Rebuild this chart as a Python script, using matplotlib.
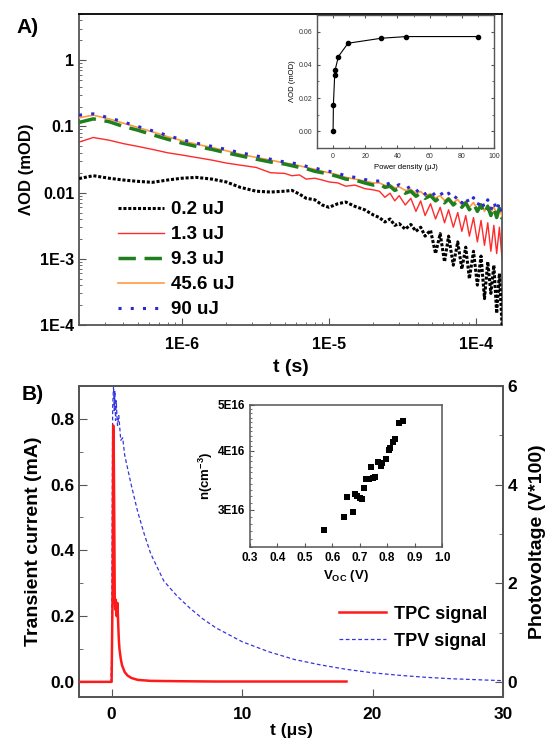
import numpy as np
import matplotlib.pyplot as plt
from matplotlib.ticker import FixedLocator, FixedFormatter, LogLocator, NullFormatter, MultipleLocator

plt.rcParams['font.family'] = ['Liberation Sans', 'DejaVu Sans']
plt.rcParams['font.weight'] = 'bold'
plt.rcParams['axes.labelweight'] = 'bold'

# ---- panel A: transient absorption decays ----
t_a = [2.0e-7, 2.5e-7, 3.2e-7, 4e-7, 5e-7, 6.3e-7, 8e-7, 1e-6, 1.25e-6, 1.6e-6,
       2e-6, 2.5e-6, 3.2e-6, 4e-6, 5e-6, 5.6e-6, 6.3e-6, 7e-6, 8e-6, 9e-6,
       1e-5, 1.15e-5, 1.3e-5, 1.5e-5, 1.75e-5, 2e-5,
       2.2e-5, 2.4e-5, 2.6e-5, 2.8e-5, 3e-5, 3.3e-5, 3.6e-5, 3.9e-5, 4.2e-5, 4.5e-5,
       4.9e-5, 5.3e-5, 5.7e-5, 6.1e-5, 6.5e-5, 7e-5, 7.5e-5, 8e-5, 8.5e-5, 9e-5,
       9.6e-5, 1.02e-4, 1.08e-4, 1.14e-4, 1.2e-4, 1.26e-4, 1.32e-4, 1.38e-4, 1.44e-4, 1.5e-4]

od_02 = [0.0163, 0.018, 0.0165, 0.0155, 0.0148, 0.0143, 0.0155, 0.0165, 0.017, 0.016,
         0.0145, 0.012, 0.0105, 0.0102, 0.0105, 0.0108, 0.0095, 0.0082, 0.0078, 0.0065,
         0.006, 0.0068, 0.0072, 0.0062, 0.0055, 0.0046,
         0.0042, 0.0036, 0.0040, 0.0032, 0.0034, 0.0028, 0.0033, 0.0026, 0.0030, 0.0022,
         0.0027, 0.0012, 0.0024, 0.0009, 0.0022, 0.0008, 0.0018, 0.0007, 0.0015, 0.0005,
         0.0013, 0.0004, 0.0011, 0.00025, 0.0009, 0.0003, 0.0008, 0.00015, 0.0006, 0.0001]
od_13 = [0.058, 0.068, 0.062, 0.055, 0.05, 0.045, 0.040, 0.037, 0.034, 0.031,
         0.028, 0.026, 0.024, 0.020, 0.0195, 0.018, 0.0185, 0.016, 0.0165, 0.0155,
         0.0145, 0.014, 0.0125, 0.013, 0.0115, 0.011,
         0.0105, 0.0085, 0.0098, 0.0075, 0.0090, 0.0065, 0.0082, 0.0052, 0.0075, 0.0045,
         0.0068, 0.0040, 0.0060, 0.0035, 0.0055, 0.0030, 0.0050, 0.0026, 0.0045, 0.0022,
         0.0042, 0.0018, 0.0038, 0.0016, 0.0035, 0.0013, 0.0032, 0.0012, 0.0030, 0.0010]
od_93 = [0.115, 0.13, 0.118, 0.10, 0.088, 0.075, 0.064, 0.056, 0.05, 0.045,
         0.040, 0.036, 0.032, 0.029, 0.027, 0.0255, 0.024, 0.023, 0.021, 0.020,
         0.019, 0.0175, 0.016, 0.0155, 0.014, 0.013,
         0.0135, 0.0120, 0.0125, 0.0108, 0.0115, 0.0098, 0.0105, 0.0088, 0.0098, 0.0082,
         0.0090, 0.0075, 0.0085, 0.0070, 0.0080, 0.0065, 0.0075, 0.0060, 0.0070, 0.0055,
         0.0068, 0.0052, 0.0065, 0.0048, 0.0062, 0.0045, 0.0060, 0.0042, 0.0058, 0.0040]
od_456 = [0.135, 0.148, 0.13, 0.112, 0.097, 0.083, 0.07, 0.061, 0.054, 0.048,
          0.043, 0.038, 0.034, 0.031, 0.028, 0.027, 0.0255, 0.024, 0.0225, 0.021,
          0.020, 0.0185, 0.017, 0.016, 0.015, 0.014,
          0.0140, 0.0128, 0.0132, 0.0118, 0.0122, 0.0108, 0.0112, 0.0098, 0.0104, 0.0090,
          0.0096, 0.0083, 0.0090, 0.0076, 0.0084, 0.0070, 0.0079, 0.0065, 0.0074, 0.0060,
          0.0071, 0.0056, 0.0068, 0.0052, 0.0065, 0.0049, 0.0062, 0.0046, 0.0060, 0.0044]
od_90 = [0.148, 0.155, 0.135, 0.117, 0.10, 0.086, 0.073, 0.063, 0.056, 0.05,
         0.045, 0.040, 0.036, 0.032, 0.029, 0.028, 0.027, 0.025, 0.0235, 0.022,
         0.021, 0.0195, 0.018, 0.017, 0.0158, 0.0148,
         0.0150, 0.0130, 0.0140, 0.0122, 0.0132, 0.0112, 0.0125, 0.0102, 0.0118, 0.0095,
         0.0110, 0.0088, 0.0104, 0.0082, 0.0098, 0.0076, 0.0092, 0.0070, 0.0088, 0.0066,
         0.0084, 0.0062, 0.0080, 0.0058, 0.0078, 0.0055, 0.0075, 0.0052, 0.0072, 0.0050]

# inset A: signal amplitude vs pump power
power = [0, 0.2, 1.0, 1.3, 3.3, 9.3, 30, 45.6, 90]
amp = [0.0, 0.016, 0.034, 0.037, 0.045, 0.053, 0.056, 0.057, 0.057]

# ---- panel B: TPC / TPV ----
t_tpc = [-2.5, -1.5, -0.5, 0.0, 0.08, 0.12, 0.16, 0.2, 0.24, 0.28, 0.32, 0.38, 0.45,
         0.5, 0.55, 0.6, 0.7, 0.8, 0.9, 1.0, 1.2, 1.5, 2.0, 3.0, 5.0, 8.0, 12.0, 15.0, 18.0]
i_tpc = [0.0, 0.0, 0.0, 0.0, 0.3, 0.78, 0.72, 0.5, 0.25, 0.22, 0.25, 0.2, 0.24,
         0.18, 0.13, 0.1, 0.07, 0.05, 0.04, 0.03, 0.02, 0.012, 0.006, 0.003, 0.002, 0.001, 0.001, 0.001, 0.001]

t_tpv = [-2.5, -1.0, -0.05, 0.0, 0.08, 0.15, 0.2, 0.25, 0.3, 0.35, 0.45, 0.55, 0.7, 0.85,
         1.0, 1.5, 2.0, 2.5, 3.0, 4.0, 5.0, 6.0, 7.0, 8.0, 10, 12, 14, 16, 18,
         20, 22, 24, 26, 28, 30]
v_tpv = [0.0, 0.0, 0.0, 0.5, 5.6, 6.0, 5.5, 5.9, 5.3, 5.7, 5.2, 5.4, 4.9, 4.95,
         4.6, 4.0, 3.45, 3.0, 2.6, 2.05, 1.75, 1.5, 1.28, 1.1, 0.82, 0.62, 0.46, 0.35, 0.26,
         0.19, 0.14, 0.1, 0.07, 0.05, 0.03]

# inset B: carrier density vs Voc
voc = [0.57, 0.644, 0.654, 0.675, 0.683, 0.69, 0.70, 0.71, 0.714, 0.724, 0.733, 0.742,
       0.75, 0.757, 0.768, 0.778, 0.78, 0.795, 0.805, 0.811, 0.82, 0.83, 0.844, 0.856]
dens = [2.71e16, 2.89e16, 3.19e16, 2.96e16, 3.24e16, 3.20e16, 3.18e16, 3.16e16, 3.34e16,
        3.49e16, 3.49e16, 3.69e16, 3.50e16, 3.52e16, 3.79e16, 3.72e16, 3.76e16, 3.85e16,
        4.01e16, 4.06e16, 4.17e16, 4.23e16, 4.58e16, 4.62e16]

spine_col = '#555555'

fig = plt.figure(figsize=(5.51, 7.44), dpi=100)


def style_box(ax, lw=1.3):
    for s in ax.spines.values():
        s.set_color(spine_col)
        s.set_linewidth(lw)


# ---------------- panel A ----------------
axA = fig.add_axes([0.1434, 0.5632, 0.7677, 0.4180])
axA.plot(t_a, od_02, color='black', ls=(0, (1, 0.6)), lw=2.2, label='0.2 uJ', zorder=3)
axA.plot(t_a, od_13, color='#ff2a2a', ls='-', lw=1.0, label='1.3 uJ', zorder=2)
axA.plot(t_a, od_93, color='#1f7f1f', ls=(0, (5, 2.5)), lw=2.5, label='9.3 uJ', zorder=4)
axA.plot(t_a, od_456, color='#ff9a40', ls='-', lw=1.2, label='45.6 uJ', zorder=3)
axA.plot(t_a, od_90, color='#2a2ad0', ls=(0, (1, 3)), lw=2.2, label='90 uJ', zorder=5)
axA.set_xscale('log')
axA.set_yscale('log')
axA.set_xlim(2.0e-7, 1.5e-4)
axA.set_ylim(1e-4, 5)
axA.yaxis.set_major_locator(FixedLocator([1e-4, 1e-3, 1e-2, 1e-1, 1]))
axA.yaxis.set_major_formatter(FixedFormatter(['1E-4', '1E-3', '0.01', '0.1', '1']))
axA.xaxis.set_major_locator(FixedLocator([1e-6, 1e-5, 1e-4]))
axA.xaxis.set_major_formatter(FixedFormatter(['1E-6', '1E-5', '1E-4']))
axA.xaxis.set_minor_locator(LogLocator(base=10, subs=np.arange(2, 10)))
axA.yaxis.set_minor_locator(LogLocator(base=10, subs=np.arange(2, 10)))
axA.xaxis.set_minor_formatter(NullFormatter())
axA.yaxis.set_minor_formatter(NullFormatter())
axA.tick_params(which='both', direction='in', colors=spine_col, labelcolor='black',
                labelsize=11.5)
axA.tick_params(which='major', length=5)
axA.tick_params(which='minor', length=2.5)
axA.tick_params(axis='x', which='major', pad=9)
style_box(axA)
axA.spines['top'].set_color('black')
axA.set_xlabel('t (s)', fontsize=14, labelpad=5)
axA.set_ylabel('ΛOD (mOD)', fontsize=12, labelpad=4)
axA.legend(loc='lower left', bbox_to_anchor=(0.06, -0.02), frameon=False, fontsize=13.5,
           handlelength=2.5, handletextpad=0.35, labelspacing=0.42, borderaxespad=0.3)
fig.text(0.03, 0.955, 'A)', fontsize=15, fontweight='bold')

# inset A
axIA = fig.add_axes([0.5753, 0.8011, 0.3212, 0.1788])
axIA.plot(power, amp, color='black', lw=0.8, marker='o', ms=3)
axIA.set_xlim(-10, 100)
axIA.set_ylim(-0.01, 0.07)
axIA.xaxis.set_major_locator(MultipleLocator(20))
axIA.xaxis.set_minor_locator(MultipleLocator(10))
axIA.yaxis.set_minor_locator(MultipleLocator(0.01))
axIA.set_yticks([0.0, 0.02, 0.04, 0.06])
axIA.set_yticklabels(['0.00', '0.02', '0.04', '0.06'])
axIA.tick_params(which='both', direction='in', labelsize=5, colors=spine_col, labelcolor='#333333',
                 top=True, right=True)
axIA.tick_params(which='major', length=2.5)
axIA.tick_params(which='minor', length=1.2)
for lab in axIA.get_xticklabels() + axIA.get_yticklabels():
    lab.set_fontweight('normal')
style_box(axIA, lw=1.0)
axIA.set_xlabel('Power density (μJ)', fontsize=5.5, fontweight='normal', labelpad=3)
axIA.set_ylabel('ΛOD (mOD)', fontsize=5.5, fontweight='normal', labelpad=2)

# ---------------- panel B ----------------
axB = fig.add_axes([0.1434, 0.0632, 0.7695, 0.4180])
axB2 = axB.twinx()
l1, = axB.plot(t_tpc, i_tpc, color='#ff1a1a', lw=1.8, label='TPC signal', zorder=3)
l2, = axB2.plot(t_tpv, v_tpv, color='#3535e0', lw=0.9, ls=(0, (3, 2)), label='TPV signal')
axB.set_zorder(axB2.get_zorder() + 1)
axB.patch.set_visible(False)
axB.set_xlim(-2.5, 30)
axB.set_ylim(-0.046, 0.9)
axB2.set_ylim(-0.3, 6)
axB.xaxis.set_major_locator(MultipleLocator(10))
axB.yaxis.set_major_locator(MultipleLocator(0.2))
axB.yaxis.set_minor_locator(MultipleLocator(0.1))
axB.yaxis.set_major_formatter(plt.FormatStrFormatter('%.1f'))
axB2.yaxis.set_major_locator(MultipleLocator(2))
axB2.yaxis.set_minor_locator(MultipleLocator(1))
for a in (axB, axB2):
    a.tick_params(which='both', direction='in', colors=spine_col, labelcolor='black',
                  labelsize=12.5)
    a.tick_params(which='major', length=6)
    a.tick_params(which='minor', length=3)
    style_box(a)
axB.tick_params(axis='x', which='major', pad=7)
axB.set_xlabel('t (μs)', fontsize=12.5, labelpad=1)
axB.set_ylabel('Transient current (mA)', fontsize=14, labelpad=6)
axB2.set_ylabel('Photovoltage (V*100)', fontsize=14, labelpad=8)
axB.legend([l1, l2], ['TPC signal', 'TPV signal'], loc='lower right',
           bbox_to_anchor=(1.0, 0.1), frameon=False, fontsize=13,
           handlelength=2.6, handletextpad=0.4, labelspacing=0.55)
fig.text(0.04, 0.462, 'B)', fontsize=15, fontweight='bold')

# inset B
axIB = fig.add_axes([0.4537, 0.2648, 0.3485, 0.1909])
axIB.scatter(voc, dens, s=14, marker='s', color='black', lw=0)
axIB.set_yscale('log')
axIB.set_xlim(0.3, 1.0)
axIB.set_ylim(2.5e16, 5e16)
axIB.xaxis.set_major_locator(MultipleLocator(0.1))
axIB.xaxis.set_major_formatter(plt.FormatStrFormatter('%.1f'))
axIB.yaxis.set_major_locator(FixedLocator([3e16, 4e16, 5e16]))
axIB.yaxis.set_major_formatter(FixedFormatter(['3E16', '4E16', '5E16']))
axIB.yaxis.set_minor_locator(FixedLocator(np.arange(2.5e16, 5.01e16, 0.1e16)))
axIB.yaxis.set_minor_formatter(NullFormatter())
axIB.tick_params(which='both', direction='in', labelsize=8.5, colors=spine_col, labelcolor='black')
axIB.tick_params(which='major', length=3)
axIB.tick_params(which='minor', length=1.5)
style_box(axIB, lw=1.1)
axIB.set_xlabel('V$_\\mathregular{OC}$ (V)', fontsize=9.5, labelpad=3)
axIB.set_ylabel('n(cm$^\\mathregular{-3}$)', fontsize=9.5, labelpad=2)

fig.savefig('out.png', dpi=100)
